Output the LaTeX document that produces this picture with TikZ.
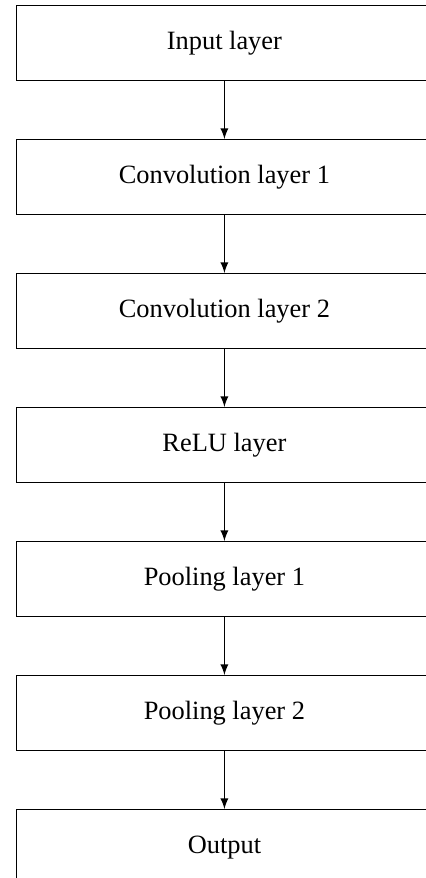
\documentclass[tikz,border=0pt]{standalone}
\usepackage{fontspec}
\setmainfont{Liberation Serif}
\usepackage{pgf,tikz}
\usetikzlibrary{arrows,positioning}

\tikzset{
  layer/.style={draw, rectangle, minimum width=5.54cm, minimum height=1cm, align=center},
  flow/.style={-latex}
}

\begin{document}
\begin{tikzpicture}[node distance=0.77cm]
\useasboundingbox (-6pt,1.9pt) rectangle (155pt,-330.7pt);
\node [layer, anchor=north west] (input) at (0,0) {Input layer};
\node [layer, below=of input] (conv1) {Convolution layer 1};
\node [layer, below=of conv1] (conv2) {Convolution layer 2};
\node [layer, below=of conv2] (relu) {ReLU layer};
\node [layer, below=of relu] (pool1) {Pooling layer 1};
\node [layer, below=of pool1] (pool2) {Pooling layer 2};
\node [layer, below=of pool2] (output) {Output};

\draw [flow] (input) -- (conv1);
\draw [flow] (conv1) -- (conv2);
\draw [flow] (conv2) -- (relu);
\draw [flow] (relu) -- (pool1);
\draw [flow] (pool1) -- (pool2);
\draw [flow] (pool2) -- (output);
\end{tikzpicture}
\end{document}
